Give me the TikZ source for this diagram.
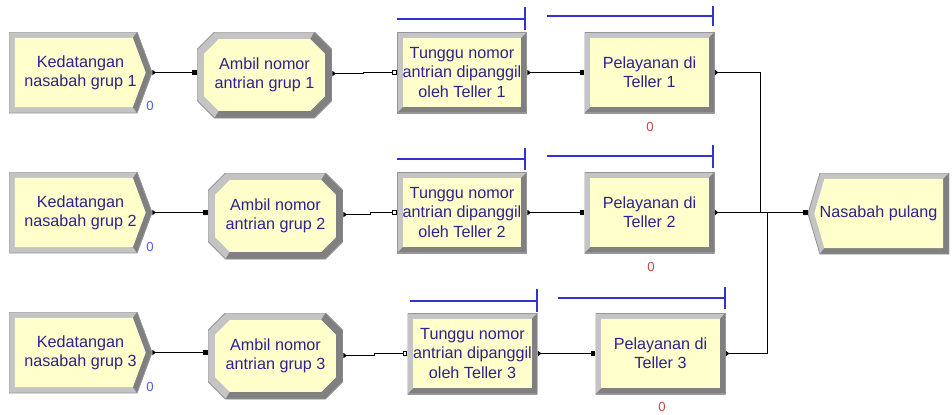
\documentclass[tikz,border=0pt]{standalone}
\usepackage{fontspec}
\setmainfont{Liberation Sans}
\usetikzlibrary{arrows.meta}
\definecolor{modfill}{RGB}{255,255,204}
\definecolor{bevlight}{RGB}{196,196,196}
\definecolor{bevdark}{RGB}{128,128,128}
\definecolor{bevline}{RGB}{150,150,150}
\definecolor{modtext}{RGB}{45,35,140}
\definecolor{qblue}{RGB}{50,50,210}
\definecolor{cntblue}{RGB}{80,90,255}
\definecolor{cntred}{RGB}{200,70,70}

\begin{document}
\begin{tikzpicture}[x=0.02cm, y=-0.02cm,
    mod/.style={fill=white, inner sep=0pt, align=center, text=modtext,
                font=\fontsize{9.2}{11}\selectfont},
    corners/.style={insert path={
        (path picture bounding box.south west) coordinate (sw)
        (path picture bounding box.south east) coordinate (se)
        (path picture bounding box.north east) coordinate (ne)
        (path picture bounding box.north west) coordinate (nw)
        (path picture bounding box.east) coordinate (e)
        (path picture bounding box.west) coordinate (w)}},
    procbox/.style={mod, minimum width=2.6cm, minimum height=1.62cm,
      path picture={
        \path[corners];
        \fill[bevlight] (sw) rectangle (ne);
        \fill[bevdark] (ne) -- (se) -- (sw) -- ([shift={(3.4pt,3.4pt)}]sw)
          -- ([shift={(-3.4pt,3.4pt)}]se) -- ([shift={(-3.4pt,-3.4pt)}]ne) -- cycle;
        \fill[modfill] ([shift={(3.4pt,3.4pt)}]sw) rectangle ([shift={(-3.4pt,-3.4pt)}]ne);
        \draw[bevline, line width=0.8pt] (sw) rectangle (ne);
      }},
    ambilbox/.style={mod, minimum width=2.7cm, minimum height=1.72cm,
      path picture={
        \path[corners];
        \fill[bevlight] ([yshift=10pt]sw) -- ([xshift=10pt]sw) -- ([xshift=-10pt]se)
          -- ([yshift=10pt]se) -- ([yshift=-10pt]ne) -- ([xshift=-10pt]ne)
          -- ([xshift=10pt]nw) -- ([yshift=-10pt]nw) -- cycle;
        \fill[bevdark] ([xshift=-10pt]ne) -- ([yshift=-10pt]ne) -- ([yshift=10pt]se)
          -- ([xshift=-10pt]se) -- ([xshift=10pt]sw) -- ([shift={(12.4pt,4pt)}]sw)
          -- ([shift={(-12.4pt,4pt)}]se) -- ([shift={(-4pt,12.4pt)}]se)
          -- ([shift={(-4pt,-12.4pt)}]ne) -- ([shift={(-12.4pt,-4pt)}]ne) -- cycle;
        \fill[modfill] ([shift={(4pt,12.4pt)}]sw) -- ([shift={(12.4pt,4pt)}]sw)
          -- ([shift={(-12.4pt,4pt)}]se) -- ([shift={(-4pt,12.4pt)}]se)
          -- ([shift={(-4pt,-12.4pt)}]ne) -- ([shift={(-12.4pt,-4pt)}]ne)
          -- ([shift={(12.4pt,-4pt)}]nw) -- ([shift={(4pt,-12.4pt)}]nw) -- cycle;
        \draw[bevline, line width=0.5pt] ([yshift=10pt]sw) -- ([xshift=10pt]sw)
          -- ([xshift=-10pt]se) -- ([yshift=10pt]se) -- ([yshift=-10pt]ne)
          -- ([xshift=-10pt]ne) -- ([xshift=10pt]nw) -- ([yshift=-10pt]nw) -- cycle;
      }},
    createbox/.style={mod, minimum width=2.86cm, minimum height=1.62cm,
      path picture={
        \path[corners];
        \fill[bevlight] (nw) -- ([xshift=-8.5pt]ne) -- (e) -- ([xshift=-8.5pt]se) -- (sw) -- cycle;
        \fill[bevdark] ([xshift=-8.5pt]ne) -- (e) -- ([xshift=-8.5pt]se)
          -- ([shift={(-10.9pt,3.4pt)}]se) -- ([xshift=-3.6pt]e)
          -- ([shift={(-10.9pt,-3.4pt)}]ne) -- cycle;
        \fill[modfill] ([shift={(3.4pt,-3.4pt)}]nw) -- ([shift={(-10.9pt,-3.4pt)}]ne)
          -- ([xshift=-3.6pt]e) -- ([shift={(-10.9pt,3.4pt)}]se)
          -- ([shift={(3.4pt,3.4pt)}]sw) -- cycle;
        \draw[bevline, line width=0.5pt] (nw) -- ([xshift=-8.5pt]ne) -- (e)
          -- ([xshift=-8.5pt]se) -- (sw) -- cycle;
      }},
    disposebox/.style={mod, minimum width=2.82cm, minimum height=1.62cm,
      path picture={
        \path[corners];
        \fill[bevlight] (w) -- ([xshift=6.8pt]nw) -- (ne) -- (se) -- ([xshift=6.8pt]sw) -- cycle;
        \fill[bevdark] (ne) -- (se) -- ([xshift=6.8pt]sw) -- ([shift={(9.3pt,3.4pt)}]sw)
          -- ([shift={(-3.4pt,3.4pt)}]se) -- ([shift={(-3.4pt,-3.4pt)}]ne) -- cycle;
        \fill[modfill] ([xshift=3.6pt]w) -- ([shift={(9.3pt,-3.4pt)}]nw)
          -- ([shift={(-3.4pt,-3.4pt)}]ne) -- ([shift={(-3.4pt,3.4pt)}]se)
          -- ([shift={(9.3pt,3.4pt)}]sw) -- cycle;
        \draw[bevline, line width=0.5pt] (w) -- ([xshift=6.8pt]nw) -- (ne) -- (se)
          -- ([xshift=6.8pt]sw) -- cycle;
      }},
    conn/.style={{Triangle[reversed, length=2pt, width=3pt]}-{Square[length=2.6pt, width=2.6pt]},
                 line width=0.6pt},
    qconn/.style={{Triangle[reversed, length=2pt, width=3pt]}-{Square[open, length=2.6pt, width=2.6pt, fill=white]},
                  line width=0.6pt},
    outconn/.style={{Triangle[reversed, length=2pt, width=3pt]}-, line width=0.6pt},
    qline/.style={draw=qblue, line width=0.8pt},
    cnt/.style={font=\fontsize{7.5}{8}\selectfont, inner sep=0pt}
]
\useasboundingbox (0,0) rectangle (952,414);

% row 1
\node[createbox] (c1) at (80.5,72.5)  {Kedatangan\\nasabah grup 1};
\node[ambilbox]  (a1) at (264.5,75)   {Ambil nomor\\antrian grup 1};
\node[procbox]   (t1) at (462,72.5)   {Tunggu nomor\\antrian dipanggil\\oleh Teller 1};
\node[procbox]   (p1) at (649.5,72.5) {Pelayanan di\\Teller 1};

% row 2
\node[createbox] (c2) at (80.5,212.5)  {Kedatangan\\nasabah grup 2};
\node[ambilbox]  (a2) at (275.5,216)   {Ambil nomor\\antrian grup 2};
\node[procbox]   (t2) at (462,212.5)   {Tunggu nomor\\antrian dipanggil\\oleh Teller 2};
\node[procbox]   (p2) at (649.5,212.5) {Pelayanan di\\Teller 2};
\node[disposebox] (d) at (878.5,213.5) {Nasabah pulang};

% row 3
\node[createbox] (c3) at (80.5,352.5)  {Kedatangan\\nasabah grup 3};
\node[ambilbox]  (a3) at (275.5,356)   {Ambil nomor\\antrian grup 3};
\node[procbox]   (t3) at (472.5,353.5) {Tunggu nomor\\antrian dipanggil\\oleh Teller 3};
\node[procbox]   (p3) at (660.5,353.5) {Pelayanan di\\Teller 3};

% counters
\node[cnt, text=cntblue] (n1) at (150,106) {0};
\node[cnt, text=cntblue] (n2) at (150,247) {0};
\node[cnt, text=cntblue] (n3) at (150,387) {0};
\node[cnt, text=cntred]  (s1) at (650,127) {0};
\node[cnt, text=cntred]  (s2) at (651,267) {0};
\node[cnt, text=cntred]  (s3) at (662,407) {0};

% queues
\draw[qline] (397,19) -- (525,19) (525,7) -- (525,30);
\draw[qline] (547,16) -- (713,16) (713,6) -- (713,26);
\draw[qline] (397,159) -- (525,159) (525,148) -- (525,170);
\draw[qline] (547,156) -- (713,156) (713,145) -- (713,168);
\draw[qline] (410,301) -- (537,301) (537,289) -- (537,312);
\draw[qline] (558,298) -- (725,298) (725,287) -- (725,309);

% connectors
\coordinate (j1) at (760.5,212.5);
\coordinate (j3) at (767.5,212.5);

\draw[conn]  (c1.east) -- (c1.east -| a1.west);
\draw[qconn] ([yshift=0.85pt]a1.east) -- ++(31,0) |- (t1.west);
\draw[conn]  (t1.east) -- (p1.west);
\draw[outconn] (p1.east) -| (j1);

\draw[conn]  (c2.east) -- (c2.east -| a2.west);
\draw[qconn] ([yshift=0.85pt]a2.east) -- ++(27,0) |- (t2.west);
\draw[conn]  (t2.east) -- (p2.west);
\draw[conn]  (p2.east) -- (p2.east -| d.west);

\draw[conn]  (c3.east) -- (c3.east -| a3.west);
\draw[qconn] ([yshift=0.28pt]a3.east) -- ++(31,0) |- (t3.west);
\draw[conn]  (t3.east) -- (p3.west);
\draw[outconn] (p3.east) -| (j3);

\end{tikzpicture}
\end{document}
